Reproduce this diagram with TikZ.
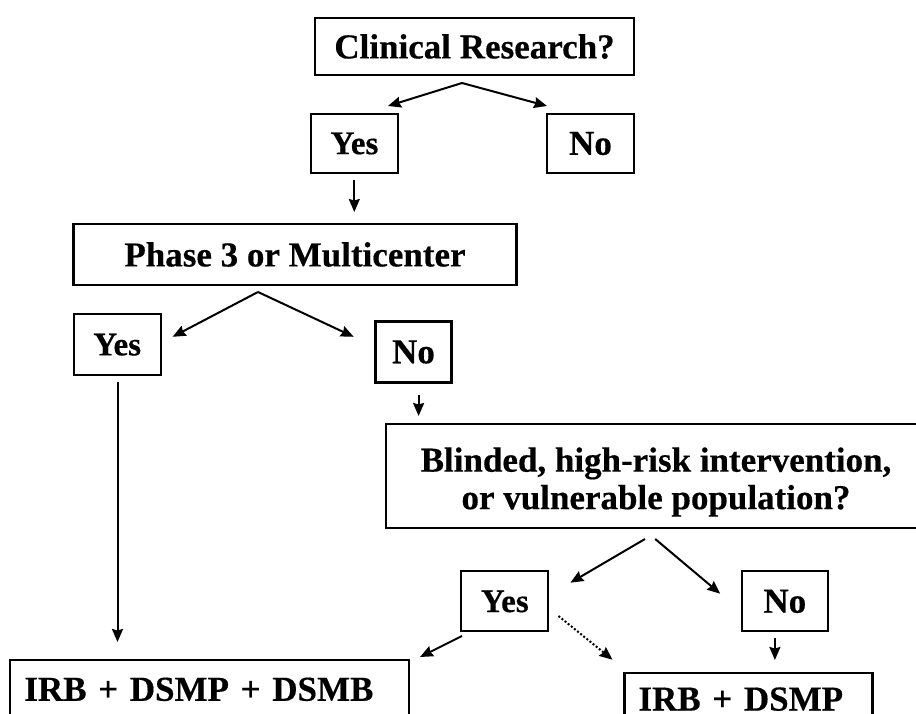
\documentclass[tikz,border=0pt]{standalone}
\usepackage{fontspec}
\setmainfont{Liberation Serif}[BoldFeatures={FakeBold=0.4}]
\usetikzlibrary{arrows.meta}
\tikzset{
  box/.style={draw=black, line width=2.1pt, inner sep=0pt, align=center,
    font=\bfseries\fontsize{35}{41}\selectfont},
  ybox/.style={box, font=\bfseries\fontsize{33}{39}\selectfont},
  lbox/.style={draw=black, line width=2.1pt, inner ysep=0pt, inner xsep=14pt, align=left,
    font=\bfseries\fontsize{35}{41}\selectfont},
  txt/.style={inner sep=0pt, align=center, font=\bfseries\fontsize{35}{41}\selectfont},
  arr/.style={line width=2pt, -{Stealth[length=13pt,width=11pt,inset=1.5pt]}},
  darr/.style={arr, dotted},
}
\begin{document}
\begin{tikzpicture}[x=1pt,y=-1pt]
\useasboundingbox (0,0) rectangle (916,714);
\clip (0,0) rectangle (916,714);
\fill[white] (0,0) rectangle (916,714);
% boxes
\node[box, minimum width=319pt, minimum height=57pt] (cr) at (474.5,46.5) {Clinical Research?};
\node[ybox, minimum width=87pt, minimum height=59pt] (yes1) at (354.5,143.5) {Yes};
\node[box, minimum width=87pt, minimum height=59pt] (no1) at (590.5,143.5) {No};
\node[box, minimum width=443pt, minimum height=61pt] (ph) at (295,254.5) {Phase 3 or Multicenter};
\node[ybox, minimum width=87pt, minimum height=61pt] (yes2) at (117.2,344.7) {Yes};
\node[box, minimum width=76pt, minimum height=61pt] (no2) at (413.5,352) {No};
\node[box, minimum width=540pt, minimum height=104pt] (bl) at (656,476) {};
\node[txt] (bltext) at (656,482) {Blinded, high-risk intervention,\\[-3.5pt] or vulnerable population?};
\node[ybox, minimum width=87pt, minimum height=60pt] (yes3) at (504.8,601.4) {Yes};
\node[box, minimum width=86pt, minimum height=60pt] (no3) at (784.8,601.4) {No};
\node[lbox, text width=371pt, minimum height=58pt, anchor=north west] (irb3) at (9.3,659.3) {IRB + DSMP + DSMB};
\node[lbox, text width=220pt, minimum height=53pt, anchor=north west] (irb2) at (623.4,671.6) {IRB + DSMP};
% connector end points
\coordinate (c1) at (462,83);
\coordinate (t1l) at (388,106);
\coordinate (t1r) at (547,106);
\coordinate (s2) at (354.3,180);
\coordinate (t2) at (354.3,212);
\coordinate (c3) at (258,292);
\coordinate (t3l) at (172.6,336.8);
\coordinate (t3r) at (353.7,336.8);
\coordinate (s4) at (117.5,382);
\coordinate (t4) at (117.5,642);
\coordinate (s5) at (418.6,395);
\coordinate (t5) at (418.6,416);
\coordinate (s6l) at (645,539);
\coordinate (t6l) at (570.4,582.7);
\coordinate (s6r) at (655.2,539);
\coordinate (t6r) at (720.2,593.7);
\coordinate (s7) at (462,636);
\coordinate (t7) at (420,657);
\coordinate (s8) at (558.5,616);
\coordinate (t8) at (612.5,659.7);
\coordinate (s9) at (774.9,638);
\coordinate (t9) at (774.9,660);
% connectors
\draw[arr] (c1) -- (t1l);
\draw[arr] (c1) -- (t1r);
\draw[arr] (s2) -- (t2);
\draw[arr] (c3) -- (t3l);
\draw[arr] (c3) -- (t3r);
\draw[arr] (s4) -- (t4);
\draw[arr] (s5) -- (t5);
\draw[arr] (s6l) -- (t6l);
\draw[arr] (s6r) -- (t6r);
\draw[arr] (s7) -- (t7);
\draw[darr] (s8) -- (t8);
\draw[arr] (s9) -- (t9);
\end{tikzpicture}
\end{document}
